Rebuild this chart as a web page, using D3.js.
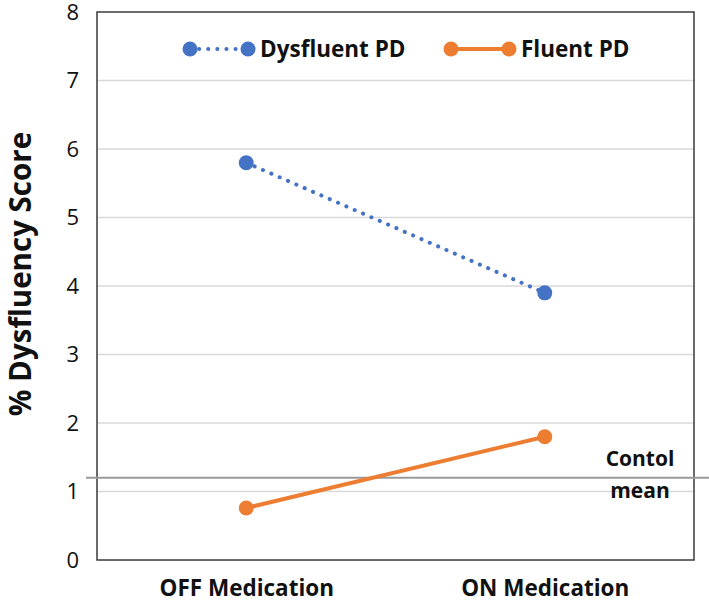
<!DOCTYPE html>
<html>
  <head>
    <meta charset="utf-8">
    <title>Dysfluency</title>
    <script src="https://cdn.jsdelivr.net/npm/d3@7"></script>
    <style>
      body { margin: 0; background: #fff; }
      text { font-family: "Open Sans", "Noto Sans", sans-serif; }
    </style>
  </head>
  <body>
    <script>
      // data
      var categories = ["OFF Medication", "ON Medication"];
      var dysfluentPD = [5.8, 3.9];
      var fluentPD = [0.76, 1.8];
      var controlMean = 1.2;
      var yTicks = [0, 1, 2, 3, 4, 5, 6, 7, 8];

      var w = 709, h = 606;
      var plotLeft = 97, plotRight = 694, plotTop = 12, plotBottom = 560;

      var svg = d3.select("body").append("svg")
          .attr("width", w)
          .attr("height", h);

      var x = d3.scalePoint()
          .domain(categories)
          .range([plotLeft, plotRight])
          .padding(0.5);

      var y = d3.scaleLinear()
          .domain([0, 8])
          .range([plotBottom, plotTop]);

      // gridlines
      svg.append("g")
          .selectAll("line")
          .data(yTicks.slice(1, -1))
          .enter().append("line")
          .attr("x1", plotLeft).attr("x2", plotRight)
          .attr("y1", function(d) { return y(d); })
          .attr("y2", function(d) { return y(d); })
          .attr("stroke", "#d9d9d9")
          .attr("stroke-width", 1.5);

      // frame
      svg.append("rect")
          .attr("x", plotLeft).attr("y", plotTop)
          .attr("width", plotRight - plotLeft).attr("height", plotBottom - plotTop)
          .attr("fill", "none")
          .attr("stroke", "#3a3a3a")
          .attr("stroke-width", 1.5);

      // y axis
      var yAxis = svg.append("g")
          .attr("transform", "translate(" + plotLeft + ",0)")
          .call(d3.axisLeft(y).tickValues(yTicks).tickSize(0).tickPadding(18));
      yAxis.select(".domain").remove();
      yAxis.selectAll("text")
          .attr("font-size", 22)
          .attr("fill", "#111")
          .style("font-family", "'Open Sans', sans-serif");

      // x axis labels
      var xAxis = svg.append("g")
          .attr("transform", "translate(0," + plotBottom + ")")
          .call(d3.axisBottom(x).tickSize(0).tickPadding(20));
      xAxis.select(".domain").remove();
      xAxis.selectAll("text")
          .attr("font-size", 22.5)
          .attr("font-weight", "bold")
          .attr("fill", "#111")
          .style("font-family", "'Open Sans', sans-serif");

      // y title
      svg.append("text")
          .attr("transform", "translate(31,274) rotate(-90)")
          .attr("text-anchor", "middle")
          .attr("font-size", 29.5)
          .attr("font-weight", "bold")
          .attr("fill", "#111")
          .text("% Dysfluency Score");

      // control mean line
      svg.append("line")
          .attr("x1", 86).attr("x2", 709)
          .attr("y1", y(controlMean)).attr("y2", y(controlMean))
          .attr("stroke", "#9a9a9a")
          .attr("stroke-width", 2);

      svg.append("text")
          .attr("x", 640).attr("y", y(controlMean) - 12)
          .attr("text-anchor", "middle")
          .attr("font-size", 21)
          .attr("font-weight", "bold")
          .attr("fill", "#111")
          .text("Contol");
      svg.append("text")
          .attr("x", 640).attr("y", y(controlMean) + 20)
          .attr("text-anchor", "middle")
          .attr("font-size", 21)
          .attr("font-weight", "bold")
          .attr("fill", "#111")
          .text("mean");

      var line = d3.line()
          .x(function(d, i) { return x(categories[i]); })
          .y(function(d) { return y(d); });

      function drawSeries(values, color, dashed) {
        svg.append("path")
            .datum(values)
            .attr("d", line)
            .attr("fill", "none")
            .attr("stroke", color)
            .attr("stroke-width", 4)
            .attr("stroke-linecap", dashed ? "round" : "butt")
            .attr("stroke-dasharray", dashed ? "0.1,9" : null);
        svg.selectAll(null)
            .data(values)
            .enter().append("circle")
            .attr("cx", function(d, i) { return x(categories[i]); })
            .attr("cy", function(d) { return y(d); })
            .attr("r", 7.5)
            .attr("fill", color);
      }

      drawSeries(dysfluentPD, "#4472c4", true);
      drawSeries(fluentPD, "#ed7d31", false);

      // legend
      var legend = [
        { name: "Dysfluent PD", color: "#4472c4", dashed: true, x: 190 },
        { name: "Fluent PD", color: "#ed7d31", dashed: false, x: 451 }
      ];
      var ly = 49;
      legend.forEach(function(l) {
        svg.append("line")
            .attr("x1", l.x).attr("x2", l.x + 58)
            .attr("y1", ly).attr("y2", ly)
            .attr("stroke", l.color)
            .attr("stroke-width", 4)
            .attr("stroke-linecap", l.dashed ? "round" : "butt")
            .attr("stroke-dasharray", l.dashed ? "0.1,9" : null);
        [l.x, l.x + 58].forEach(function(cx) {
          svg.append("circle")
              .attr("cx", cx).attr("cy", ly).attr("r", 7.5)
              .attr("fill", l.color);
        });
        svg.append("text")
            .attr("x", l.x + 70).attr("y", ly)
            .attr("dy", "0.35em")
            .attr("font-size", 22.5)
            .attr("font-weight", "bold")
            .attr("fill", "#111")
            .text(l.name);
      });
    </script>
  </body>
</html>
